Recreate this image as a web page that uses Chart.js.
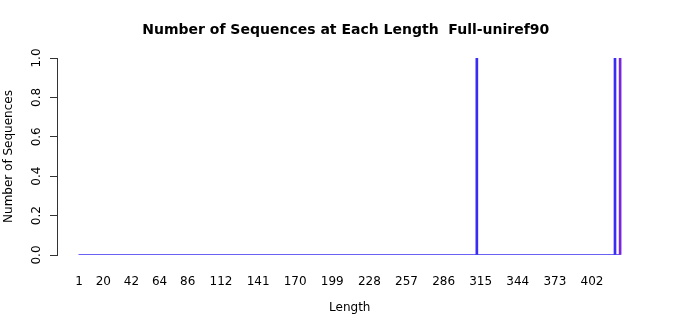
<!DOCTYPE html>
<html>
<head>
<meta charset="utf-8">
<script src="https://cdn.jsdelivr.net/npm/chart.js@4"></script>
<style>
  html, body { margin: 0; padding: 0; background: #fff; }
  #wrap { width: 700px; height: 315px; }
</style>
</head>
<body>
<div id="wrap"><canvas id="chart" width="700" height="315"></canvas></div>
<script>
// lengths that have sequences, and how many
const peakLengths = [312, 420, 424];
const peakCounts = [1, 1, 1];
const peakColors = ['#3a2cf2', '#3a2cf2', '#7a26dc'];
// every other length from 1 to 424 has zero sequences
const firstLength = 1;
const lastLength = 424;
const xTickLabels = [1, 20, 42, 64, 86, 112, 141, 170, 199, 228, 257, 286, 315, 344, 373, 402];
const yTickLabels = [0, 0.2, 0.4, 0.6, 0.8, 1.0];

const FONT = '"DejaVu Sans", sans-serif';

const textPlugin = {
  id: 'rtext',
  afterDraw(chart) {
    const { ctx, chartArea, scales } = chart;
    const cx = (chartArea.left + chartArea.right) / 2;
    ctx.save();
    ctx.fillStyle = '#000';
    ctx.textAlign = 'center';
    ctx.textBaseline = 'middle';
    ctx.font = 'bold 14px ' + FONT;
    ctx.fillText('Number of Sequences at Each Length  Full-uniref90', cx - 4, 30);

    ctx.font = '12px ' + FONT;
    ctx.fillText('Length', cx, 308);

    // y tick labels, parallel to the axis
    yTickLabels.forEach(v => {
      const y = scales.y.getPixelForValue(v);
      ctx.save();
      ctx.translate(37, y);
      ctx.rotate(-Math.PI / 2);
      ctx.fillText(v.toFixed(1), 0, 0);
      ctx.restore();
    });

    ctx.save();
    ctx.translate(9, (chartArea.top + chartArea.bottom) / 2);
    ctx.rotate(-Math.PI / 2);
    ctx.fillText('Number of Sequences', 0, 0);
    ctx.restore();
    ctx.restore();
  }
};

new Chart(document.getElementById('chart'), {
  type: 'bar',
  data: {
    datasets: [
      {
        type: 'line',
        data: [{ x: firstLength - 0.4, y: 0 }, { x: lastLength + 0.4, y: 0 }],
        borderColor: '#3a2cf2',
        borderWidth: 1.6,
        pointRadius: 0,
        order: 2
      },
      {
        data: peakLengths.map((l, i) => ({ x: l, y: peakCounts[i] })),
        backgroundColor: peakColors,
        borderWidth: 0,
        barThickness: 2,
        order: 1
      }
    ]
  },
  options: {
    responsive: false,
    animation: false,
    layout: { padding: { left: 0, right: 57.5, top: 58, bottom: 0 } },
    plugins: { legend: { display: false }, title: { display: false }, tooltip: { enabled: false } },
    scales: {
      x: {
        type: 'linear',
        min: -16.2,
        max: 441.5,
        offset: false,
        grid: { display: false },
        border: { display: false },
        afterBuildTicks: scale => { scale.ticks = xTickLabels.map(v => ({ value: v })); },
        afterFit: scale => { scale.height = 60; },
        ticks: {
          autoSkip: false,
          maxRotation: 0,
          minRotation: 0,
          padding: 12,
          color: '#000',
          font: { family: FONT, size: 12 },
          callback: v => String(v)
        }
      },
      y: {
        min: 0,
        max: 1,
        ticks: { display: false, stepSize: 0.2 },
        grid: { drawOnChartArea: false, drawTicks: true, tickLength: 7, color: '#333' },
        border: { display: true, color: '#333' },
        afterFit: scale => { scale.width = 57; }
      }
    }
  },
  plugins: [textPlugin]
});
</script>
</body>
</html>
